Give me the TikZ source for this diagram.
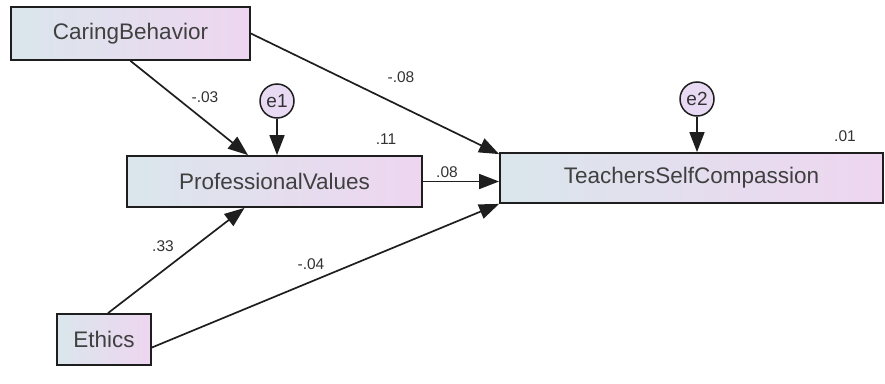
\documentclass[tikz,border=0pt]{standalone}
\usepackage{fontspec}
\setmainfont{Liberation Sans}
\usepackage{tikz}
\usetikzlibrary{positioning,arrows.meta}
\usepackage{xcolor}
\definecolor{boxleft}{RGB}{218,230,236}
\definecolor{boxright}{RGB}{238,214,240}
\definecolor{errfill}{RGB}{232,218,242}
\definecolor{edge}{RGB}{30,30,30}

\begin{document}
\begin{tikzpicture}[x=1pt, y=-1pt, >={Triangle[length=20pt,width=15pt]},
	observed/.style={draw=edge, line width=1.8pt, rectangle, left color=boxleft, right color=boxright,
	  font=\fontsize{22.5}{25}\selectfont, text=black!75},
	error/.style={draw=edge, line width=1.5pt, circle, fill=errfill, minimum size=34pt, inner sep=0pt,
	  font=\fontsize{19}{21}\selectfont, text=black!80},
	path/.style={draw=edge, line width=1.7pt, ->},
	weight/.style={font=\fontsize{15.5}{17}\selectfont, text=black!80}]

	\useasboundingbox (0,0) rectangle (885,383);

	% observed variables
	\node [observed, minimum width=239pt, minimum height=53pt] (CB) at (130.5,33.5) {CaringBehavior};
	\node [observed, minimum width=295pt, minimum height=51pt] (PV) at (274.5,181.5) {ProfessionalValues};
	\node [observed, minimum width=383pt, minimum height=50pt] (TSC) at (691.5,178) {TeachersSelfCompassion};
	\node [observed, minimum width=94pt, minimum height=51pt] (Eth) at (104,339.5) {Ethics};

	% errors
	\node [error] (e1) at (277,101) {e1};
	\node [error] (e2) at (697,99) {e2};

	% paths
	\draw [path] (CB.south) -- ([xshift=-26.5pt]PV.north);
	\draw [path] (CB.east) -- ([yshift=-2pt]TSC.north west);
	\draw [path] (PV.east) -- (TSC.west |- PV.east);
	\draw [path] ([xshift=4pt]Eth.north) -- ([xshift=-30pt]PV.south);
	\draw [path] ([yshift=-8pt]Eth.east) -- (TSC.south west);
	\draw [path] (e1.south) -- (e1.south |- PV.north);
	\draw [path] (e2.south) -- (e2.south |- TSC.north);

	% estimates
	\foreach \v/\px/\py [count=\i] in {-.03/205/97, -.08/401/77, .11/386/139, .08/447/172,
	    .01/845/136, .33/163/246, -.04/311/264}
	  \node [weight] (est-\i) at (\px,\py) {\v};
\end{tikzpicture}
\end{document}
